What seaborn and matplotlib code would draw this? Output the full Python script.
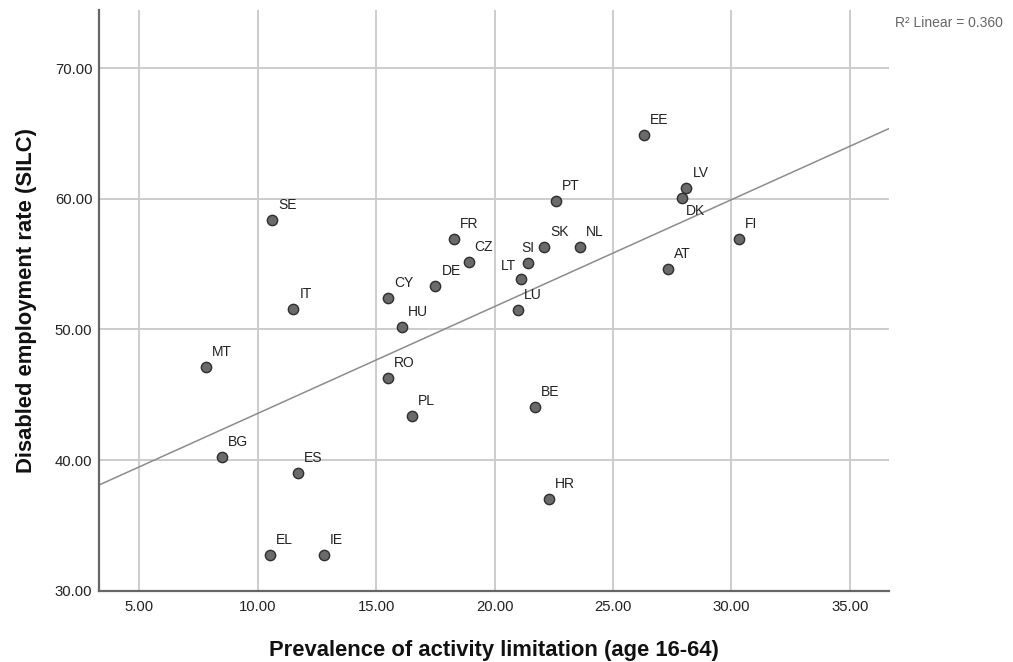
import numpy as np
import pandas as pd
import matplotlib
matplotlib.use("Agg")
import matplotlib.pyplot as plt
import seaborn as sns

countries = ["SE", "EE", "LV", "DK", "PT", "IT", "CY", "HU", "MT", "RO", "PL",
             "FR", "CZ", "DE", "SI", "SK", "NL", "LT", "LU", "AT", "FI", "BE",
             "BG", "ES", "EL", "IE", "HR"]
prevalence = [10.6, 26.3, 28.1, 27.9, 22.6, 11.5, 15.5, 16.1, 7.8, 15.5, 16.5,
              18.3, 18.9, 17.5, 21.4, 22.1, 23.6, 21.1, 21.0, 27.3, 30.3, 21.7,
              8.5, 11.7, 10.5, 12.8, 22.3]
employment = [58.4, 64.9, 60.8, 60.1, 59.8, 51.6, 52.4, 50.2, 47.1, 46.3, 43.4,
              56.9, 55.2, 53.3, 55.1, 56.3, 56.3, 53.9, 51.5, 54.6, 56.9, 44.1,
              40.2, 39.0, 32.7, 32.7, 37.0]
x_ticks = [5, 10, 15, 20, 25, 30, 35]
y_ticks = [30, 40, 50, 60, 70]
r2_text = "R\u00b2 Linear = 0.360"

df = pd.DataFrame({"country": countries, "x": prevalence, "y": employment})

sns.set_theme(style="white")
plt.rcParams["font.family"] = ["Liberation Sans", "DejaVu Sans"]

fig = plt.figure(figsize=(10.13, 6.62), dpi=100)
ax = fig.add_axes([0.098, 0.1077, 0.7796, 0.8773])

ax.set_xlim(3.31, 36.65)
ax.set_ylim(30, 74.46)

ax.set_xticks(x_ticks)
ax.set_yticks(y_ticks)
ax.set_xticklabels([f"{v:.2f}" for v in x_ticks])
ax.set_yticklabels([f"{v:.2f}" for v in y_ticks])
ax.grid(True, color="#cccccc", linewidth=1.4)
ax.set_axisbelow(True)

sns.regplot(data=df, x="x", y="y", ax=ax, scatter=False, ci=None,
            truncate=False, line_kws=dict(color="#8c8c8c", linewidth=1.1))

sns.scatterplot(data=df, x="x", y="y", ax=ax, s=55, color="#6a6a6a",
                edgecolor="#2e2e2e", linewidth=1.0, zorder=5)

special = {"DK": (4, -13, "left"), "SI": (-6, 15, "left"), "LT": (-5, 13, "right")}
for c, xv, yv in zip(countries, prevalence, employment):
    dx, dy, ha = special.get(c, (6, 15, "left"))
    ax.annotate(c, (xv, yv), xytext=(dx, dy), textcoords="offset pixels",
                ha=ha, va="center", fontsize=10, color="#222222", zorder=6)

for s in ["top", "right"]:
    ax.spines[s].set_visible(False)
for s in ["left", "bottom"]:
    ax.spines[s].set_color("#666666")
    ax.spines[s].set_linewidth(1.6)

ax.tick_params(axis="both", length=0, labelsize=10.7, labelcolor="#222222")
ax.tick_params(axis="y", pad=5)
ax.tick_params(axis="x", pad=6.5)

ax.set_xlabel("Prevalence of activity limitation (age 16-64)", fontsize=15.8,
              fontweight="bold", color="#111111", labelpad=19)
ax.set_ylabel("Disabled employment rate (SILC)", fontsize=15.8,
              fontweight="bold", color="#111111", labelpad=13)

fig.text(0.8835, 0.9656, r2_text, fontsize=10, color="#666666", ha="left", va="center")

fig.savefig("out.png", dpi=100)
